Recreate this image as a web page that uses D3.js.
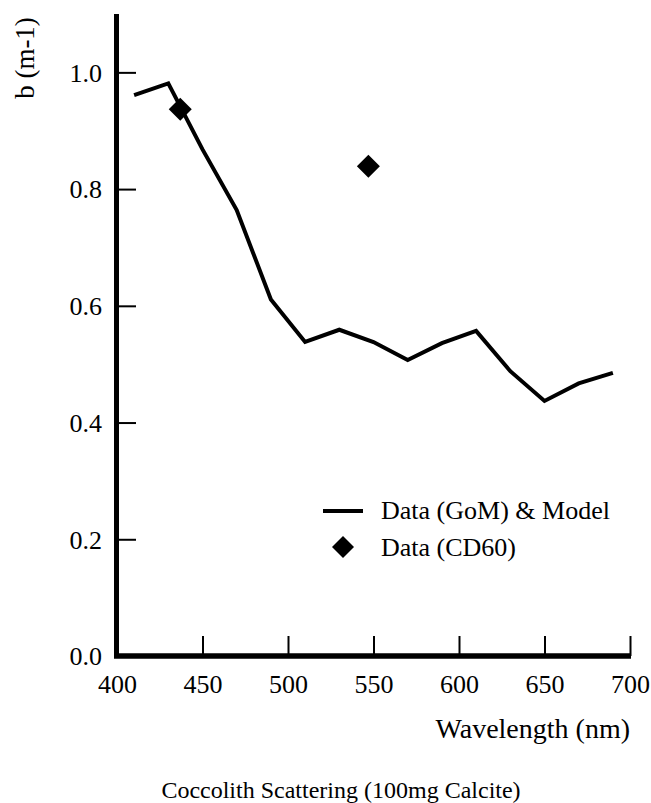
<!DOCTYPE html>
<html>
<head>
<meta charset="utf-8">
<script src="https://cdn.jsdelivr.net/npm/d3@7"></script>
<style>
  html, body { margin: 0; padding: 0; background: #fff; }
  svg { display: block; }
</style>
</head>
<body>
<svg id="chart" width="651" height="803"></svg>
<script>
// ---- data ----
const wavelengths = [410, 430, 450, 470, 490, 510, 530, 550, 570, 590, 610, 630, 650, 670, 690];
const gomModel   = [0.961, 0.981, 0.868, 0.764, 0.611, 0.538, 0.559, 0.538, 0.507, 0.536, 0.557, 0.488, 0.437, 0.467, 0.485];
const cd60Wavelengths = [437, 547];
const cd60Values      = [0.937, 0.839];
const xTicks = [400, 450, 500, 550, 600, 650, 700];
const yTicks = [0.0, 0.2, 0.4, 0.6, 0.8, 1.0];
const legendLabels = ["Data (GoM) & Model", "Data (CD60)"];
const xTitle = "Wavelength (nm)";
const yTitle = "b (m-1)";
const caption = "Coccolith Scattering (100mg Calcite)";

const FONT = "Liberation Serif";
const svg = d3.select("#chart");
const x = d3.scaleLinear().domain([400, 700]).range([117, 630]);
const y = d3.scaleLinear().domain([0, 1.1]).range([656, 14]);

// x axis
const gx = svg.append("g").attr("transform", `translate(0,${y(0)})`)
  .call(d3.axisBottom(x).tickValues(xTicks).tickSizeInner(-20).tickSizeOuter(0).tickPadding(0).tickFormat(d3.format("d")));
gx.select(".domain").remove();
gx.selectAll(".tick line").attr("stroke", "#000").attr("stroke-width", 2);
gx.selectAll(".tick text").attr("y", 37).attr("dy", null).attr("fill", "#000")
  .style("font-family", FONT).style("font-size", "26px");

// y axis
const gy = svg.append("g").attr("transform", `translate(${x(400)},0)`)
  .call(d3.axisLeft(y).tickValues(yTicks).tickSizeInner(-19).tickSizeOuter(0).tickPadding(15).tickFormat(d3.format(".1f")));
gy.select(".domain").remove();
gy.selectAll(".tick line").attr("stroke", "#000").attr("stroke-width", 2);
gy.selectAll(".tick text").attr("fill", "#000").attr("dy", "0.34em")
  .style("font-family", FONT).style("font-size", "26px");

// thick axis lines
svg.append("line").attr("x1", x(400) - 3).attr("x2", x(700) + 1).attr("y1", y(0)).attr("y2", y(0))
  .attr("stroke", "#000").attr("stroke-width", 5.5);
svg.append("line").attr("x1", x(400) - 0.5).attr("x2", x(400) - 0.5).attr("y1", y(1.1)).attr("y2", y(0) + 2)
  .attr("stroke", "#000").attr("stroke-width", 5);

// line series
const pts = wavelengths.map((w, i) => [w, gomModel[i]]);
svg.append("path").datum(pts)
  .attr("fill", "none").attr("stroke", "#000").attr("stroke-width", 4).attr("stroke-linejoin", "miter")
  .attr("d", d3.line().x(d => x(d[0])).y(d => y(d[1])));

// diamonds
function diamond(cx, cy, r) {
  return `M${cx},${cy - r}L${cx + r},${cy}L${cx},${cy + r}L${cx - r},${cy}Z`;
}
svg.selectAll("path.cd60").data(cd60Wavelengths.map((w, i) => [w, cd60Values[i]]))
  .enter().append("path").attr("class", "cd60")
  .attr("d", d => diamond(x(d[0]), y(d[1]), 11.5)).attr("fill", "#000");

// legend
svg.append("line").attr("x1", 323).attr("x2", 363).attr("y1", 511).attr("y2", 511)
  .attr("stroke", "#000").attr("stroke-width", 4);
svg.append("path").attr("d", diamond(343, 547, 11)).attr("fill", "#000");
function txt(xp, yp, s, size, anchor) {
  return svg.append("text").attr("x", xp).attr("y", yp).attr("text-anchor", anchor || "start")
    .style("font-family", FONT).style("font-size", size + "px").attr("fill", "#000").text(s);
}
txt(381, 519, legendLabels[0], 26);
txt(381, 556, legendLabels[1], 26);

// titles
txt(630, 738, xTitle, 28, "end");
svg.append("text").attr("transform", "translate(34,58) rotate(-90)").attr("text-anchor", "middle")
  .style("font-family", FONT).style("font-size", "27px").text(yTitle);
txt(341, 798, caption, 24, "middle");
</script>
</body>
</html>
